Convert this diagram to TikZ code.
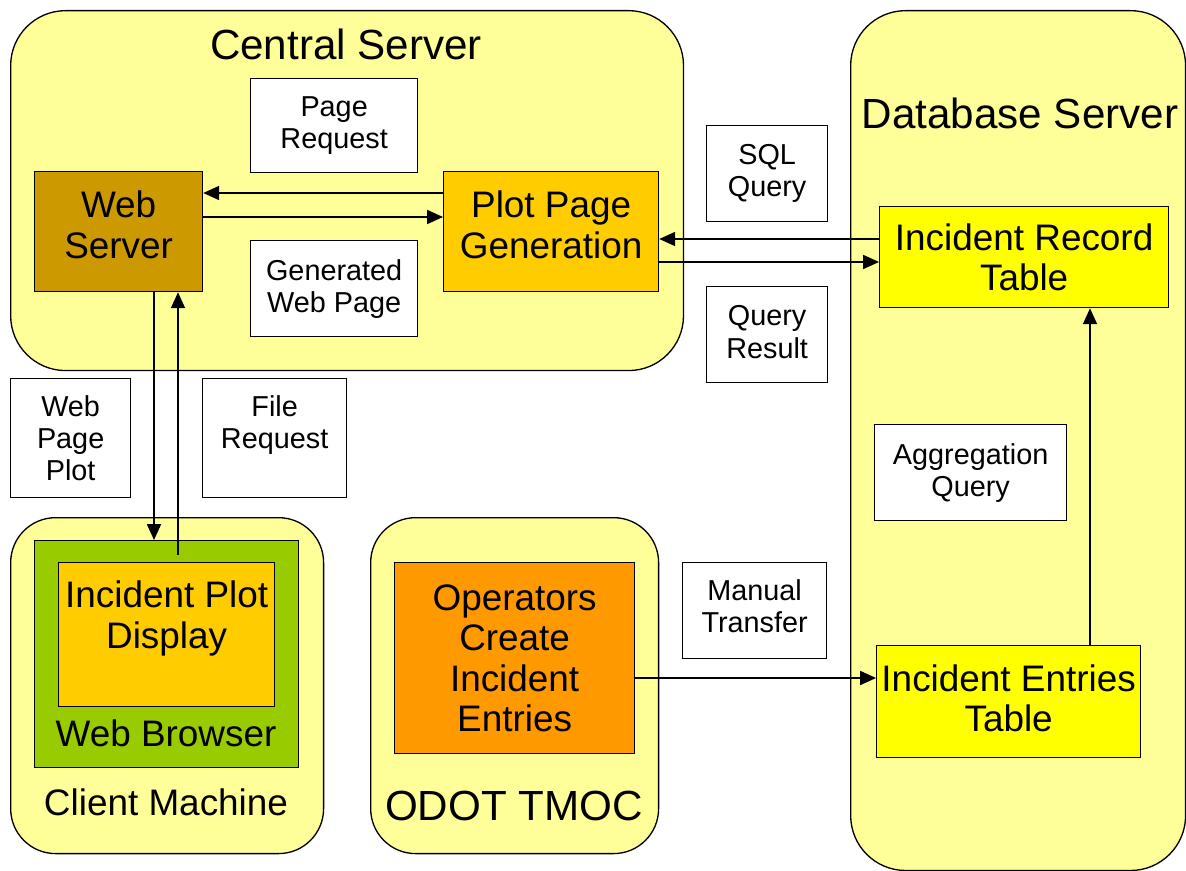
\documentclass[tikz,border=0pt]{standalone}
\usepackage{fontspec}
\setmainfont{Liberation Sans}
\usetikzlibrary{arrows.meta}
\definecolor{paleyellow}{HTML}{FFFF99}
\definecolor{webbrown}{HTML}{CC9900}
\definecolor{amber}{HTML}{FFCC00}
\definecolor{tableyellow}{HTML}{FFFF00}
\definecolor{operange}{HTML}{FF9900}
\definecolor{browsergreen}{HTML}{99CC00}
\newcommand{\smallsz}{\fontsize{16.4}{18.3}\selectfont}
\newcommand{\midsz}{\fontsize{21}{23}\selectfont}
\newcommand{\bigsz}{\fontsize{24}{26}\selectfont}
% extra depth on the last line lifts the text inside its box
\newcommand{\liftby}[1]{\rule[-#1]{0pt}{0pt}}
\begin{document}
\begin{tikzpicture}[x=0.02cm,y=-0.02cm,line width=0.75pt,
  region/.style={draw, fill=paleyellow, rounded corners=#1, anchor=north west, inner sep=0pt},
  part/.style={draw, fill=#1, anchor=north west, inner sep=0pt, align=center, font=\midsz},
  tag/.style={draw, fill=white, anchor=north west, inner sep=0pt, align=center, font=\smallsz},
  title/.style={inner sep=0pt, font=\bigsz},
  arr/.style={-{Triangle[length=9pt,width=8pt]}}]
\useasboundingbox[fill=white] (0,0) rectangle (1186,871);

% machines
\node[region=1.1cm, minimum width=13.46cm, minimum height=7.2cm] (cs) at (10,10) {};
\node[region=1.1cm, minimum width=6.7cm, minimum height=17.2cm] (db) at (850,10) {};
\node[region=0.9cm, minimum width=6.26cm, minimum height=6.72cm] (cm) at (10,517) {};
\node[region=0.9cm, minimum width=5.76cm, minimum height=6.72cm] (tmoc) at (370,517) {};

\node[title] (cstitle) at (346,44) {Central Server};
\node[title] (dbtitle) at (1020,113) {Database Server};
\node[inner sep=0pt, font=\midsz] (cmtitle) at (166,802) {Client Machine};
\node[title] (tmoctitle) at (514,806) {ODOT TMOC};

% components
\node[part=webbrown, minimum width=3.36cm, minimum height=2.4cm] (ws) at (34,171) {Web\\Server\liftby{8pt}};
\node[part=amber, minimum width=4.3cm, minimum height=2.4cm] (plot) at (443,171) {Plot Page\\Generation\liftby{8pt}};
\node[part=tableyellow, minimum width=5.78cm, minimum height=2.02cm] (record) at (879,206) {Incident Record\\Table};
\node[part=tableyellow, minimum width=5.28cm, minimum height=2.24cm] (entries) at (876,645) {Incident Entries\\Table\liftby{4pt}};
\node[part=operange, minimum width=4.8cm, minimum height=3.82cm] (ops) at (394,562) {Operators\\Create\\Incident\\Entries};
\node[part=browsergreen, minimum width=5.28cm, minimum height=4.54cm] (browser) at (34,540) {};
\node[part=amber, minimum width=4.32cm, minimum height=2.88cm] (display) at (58,562) {Incident Plot\\Display\\~};
\node[inner sep=0pt, font=\midsz] (browsertitle) at (166,733) {Web Browser};

% data labels
\node[tag, minimum width=3.34cm, minimum height=1.88cm] (pagereq) at (250,78) {Page\\Request};
\node[tag, minimum width=3.34cm, minimum height=1.92cm] (genpage) at (250,240) {Generated\\Web Page\liftby{3pt}};
\node[tag, minimum width=2.42cm, minimum height=1.92cm] (sqlq) at (706,125) {SQL\\Query};
\node[tag, minimum width=2.42cm, minimum height=1.92cm] (qres) at (706,286) {Query\\Result\liftby{3pt}};
\node[tag, minimum width=3.84cm, minimum height=1.92cm] (aggq) at (874,424) {Aggregation\\Query};
\node[tag, minimum width=2.88cm, minimum height=1.92cm] (manual) at (682,562) {Manual\\Transfer\liftby{5pt}};
\node[tag, minimum width=2.4cm, minimum height=2.38cm] (wpp) at (10,378) {Web\\Page\\Plot};
\node[tag, minimum width=2.88cm, minimum height=2.38cm] (freq) at (202,378) {File\\Request\\~};

% data flow
\coordinate (upstart) at (178,555);
\draw[arr] (plot.west |- 0,193) -- (ws.east |- 0,193);
\draw[arr] (ws.east |- 0,217) -- (plot.west |- 0,217);
\draw[arr] (record.west |- 0,239) -- (plot.east |- 0,239);
\draw[arr] (plot.east |- 0,262) -- (record.west |- 0,262);
\draw[arr] (ws.south -| 154,0) -- (browser.north -| 154,0);
\draw[arr] (upstart) -- (ws.south -| upstart);
\draw[arr] (ops.east |- 0,678) -- (entries.west |- 0,678);
\draw[arr] (entries.north -| 1090,0) -- (record.south -| 1090,0);
\end{tikzpicture}
\end{document}
